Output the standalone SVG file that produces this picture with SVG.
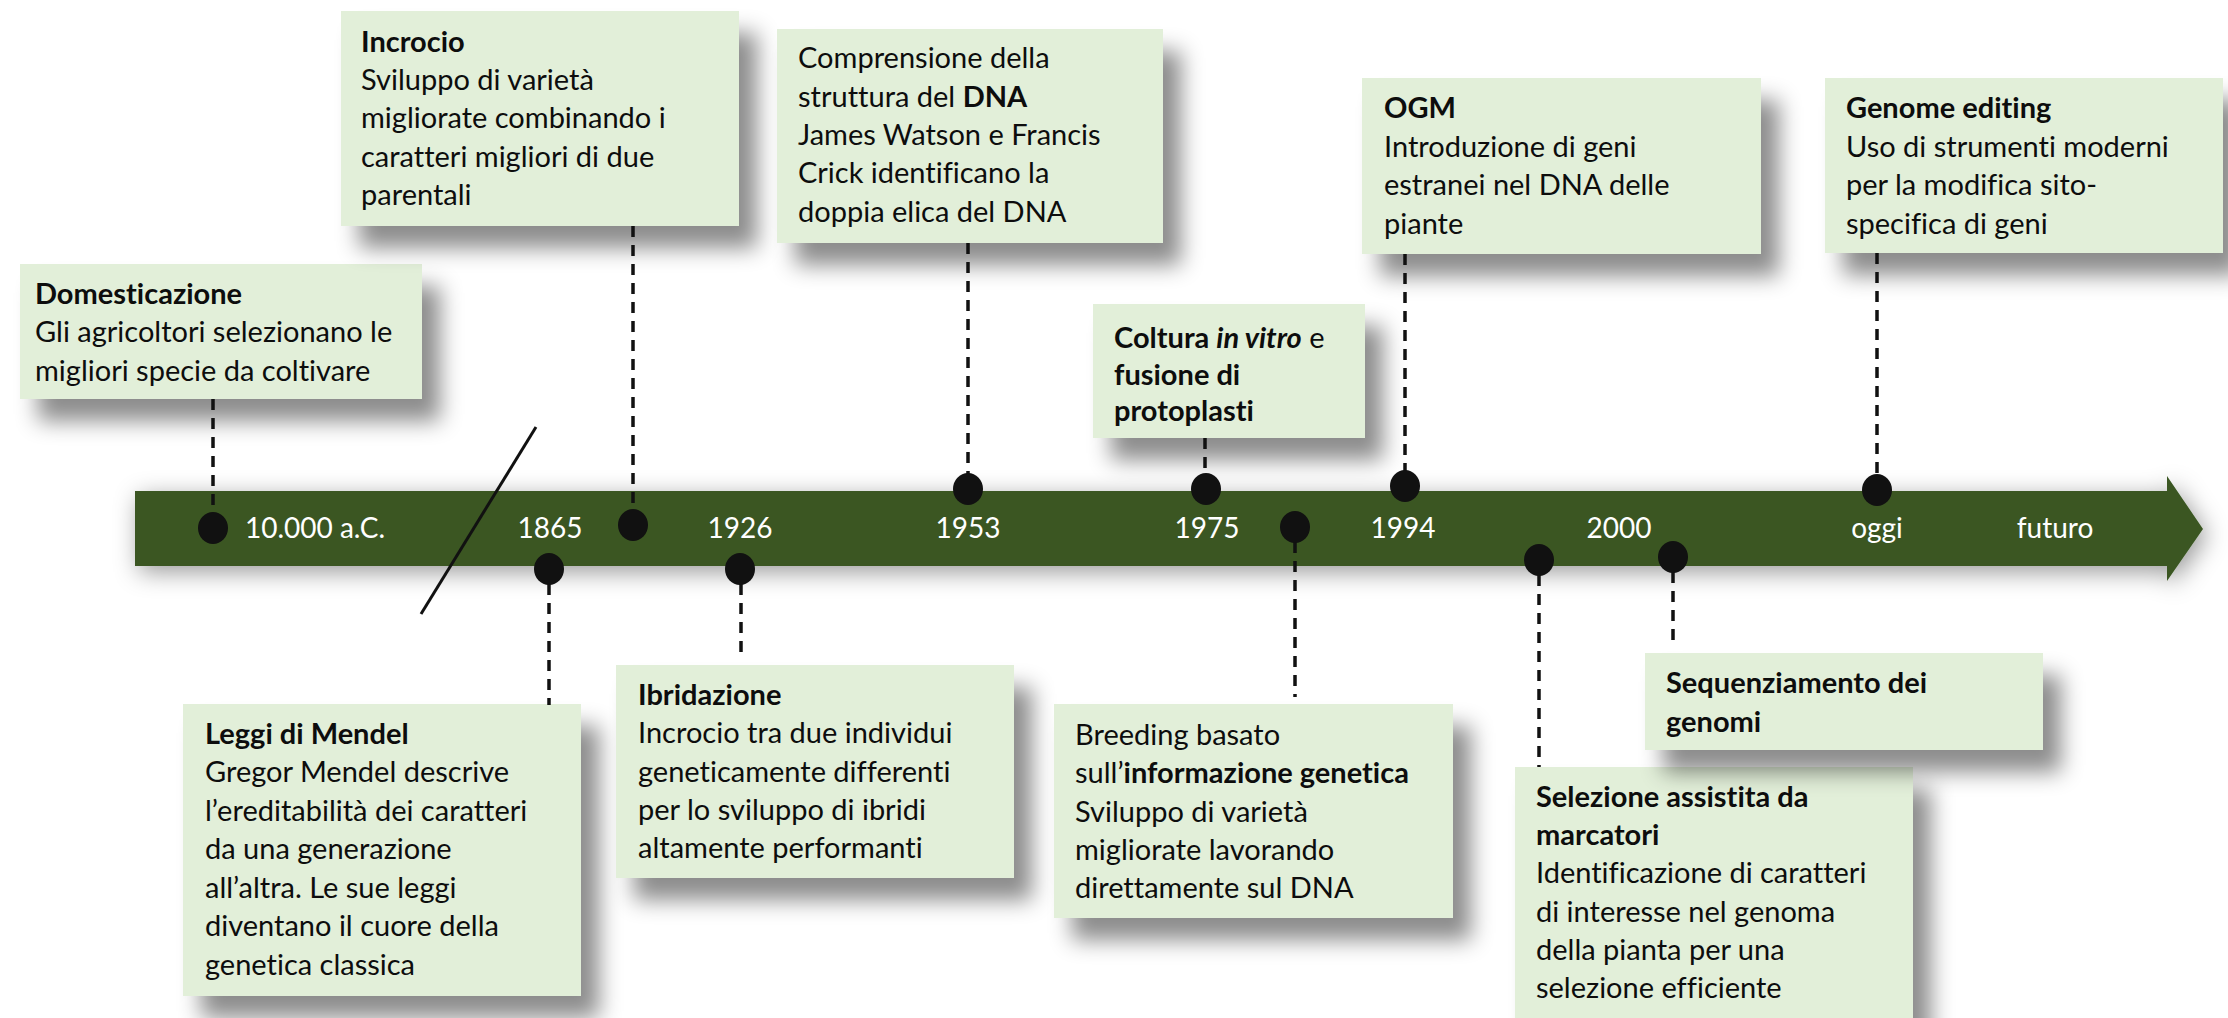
<svg xmlns="http://www.w3.org/2000/svg" width="2228" height="1018" viewBox="0 0 2228 1018">
<defs>
<filter id="boxsh" x="-20%" y="-20%" width="150%" height="170%">
<feDropShadow dx="18" dy="22" stdDeviation="11" flood-color="#000" flood-opacity="0.45"/>
</filter>
<filter id="barsh" x="-5%" y="-60%" width="110%" height="220%">
<feDropShadow dx="4" dy="6" stdDeviation="12" flood-color="#000" flood-opacity="0.4"/>
</filter>
<style>
.box{fill:#E2EFD9;filter:url(#boxsh);}
.t{font-family:Lato,"Liberation Sans",sans-serif;font-size:29px;fill:#0d0d0d;font-variant-ligatures:none;}
.b{font-weight:bold;}
.yr{font-family:Lato,"Liberation Sans",sans-serif;font-size:28px;fill:#ffffff;text-anchor:middle;}
.dash{stroke:#111;stroke-width:3.5;stroke-dasharray:11 8;fill:none;}
.dot{fill:#111;}
</style>
</defs>
<rect width="2228" height="1018" fill="#fff"/>

<g id="timeline">
<path d="M135,491 H2167 V476 L2203,529 L2167,581 V566 H135 Z" fill="#3A5723" filter="url(#barsh)"/>
<line x1="536" y1="427" x2="421" y2="614" stroke="#111" stroke-width="3"/>
<text class="yr" x="315" y="538">10.000 a.C.</text>
<text class="yr" x="550" y="538">1865</text>
<text class="yr" x="740" y="538">1926</text>
<text class="yr" x="968" y="538">1953</text>
<text class="yr" x="1207" y="538">1975</text>
<text class="yr" x="1403" y="538">1994</text>
<text class="yr" x="1619" y="538">2000</text>
<text class="yr" x="1877" y="538">oggi</text>
<text class="yr" x="2055" y="538">futuro</text>
</g>

<g id="domesticazione">
<rect class="box" x="20" y="264" width="402" height="135"/>
<text class="t"><tspan class="b" x="35" y="304">Domesticazione</tspan><tspan x="35" y="342">Gli agricoltori selezionano le</tspan><tspan x="35" y="381">migliori specie da coltivare</tspan></text>
</g>

<g id="incrocio">
<rect class="box" x="341" y="11" width="398" height="215"/>
<text class="t"><tspan class="b" x="361" y="52">Incrocio</tspan><tspan x="361" y="90">Sviluppo di varietà</tspan><tspan x="361" y="128">migliorate combinando i</tspan><tspan x="361" y="167">caratteri migliori di due</tspan><tspan x="361" y="205">parentali</tspan></text>
</g>

<g id="dna">
<rect class="box" x="777" y="29" width="386" height="214"/>
<text class="t"><tspan x="798" y="68">Comprensione della</tspan><tspan x="798" y="107">struttura del <tspan class="b">DNA</tspan></tspan><tspan x="798" y="145">James Watson e Francis</tspan><tspan x="798" y="183">Crick identificano la</tspan><tspan x="798" y="222">doppia elica del DNA</tspan></text>
</g>

<g id="coltura">
<rect class="box" x="1093" y="304" width="272" height="134"/>
<text class="t"><tspan x="1114" y="348"><tspan class="b">Coltura </tspan><tspan class="b" font-style="italic">in vitro</tspan> e</tspan><tspan class="b" x="1114" y="385">fusione di</tspan><tspan class="b" x="1114" y="421">protoplasti</tspan></text>
</g>

<g id="ogm">
<rect class="box" x="1362" y="78" width="399" height="176"/>
<text class="t"><tspan class="b" x="1384" y="118">OGM</tspan><tspan x="1384" y="157">Introduzione di geni</tspan><tspan x="1384" y="195">estranei nel DNA delle</tspan><tspan x="1384" y="234">piante</tspan></text>
</g>

<g id="genome-editing">
<rect class="box" x="1825" y="78" width="398" height="175"/>
<text class="t"><tspan class="b" x="1846" y="118">Genome editing</tspan><tspan x="1846" y="157">Uso di strumenti moderni</tspan><tspan x="1846" y="195">per la modifica sito-</tspan><tspan x="1846" y="234">specifica di geni</tspan></text>
</g>

<g id="mendel">
<rect class="box" x="183" y="704" width="398" height="292"/>
<text class="t"><tspan class="b" x="205" y="744">Leggi di Mendel</tspan><tspan x="205" y="782">Gregor Mendel descrive</tspan><tspan x="205" y="821">l’ereditabilità dei caratteri</tspan><tspan x="205" y="859">da una generazione</tspan><tspan x="205" y="898">all’altra. Le sue leggi</tspan><tspan x="205" y="936">diventano il cuore della</tspan><tspan x="205" y="975">genetica classica</tspan></text>
</g>

<g id="ibridazione">
<rect class="box" x="616" y="665" width="398" height="213"/>
<text class="t"><tspan class="b" x="638" y="705">Ibridazione</tspan><tspan x="638" y="743">Incrocio tra due individui</tspan><tspan x="638" y="782">geneticamente differenti</tspan><tspan x="638" y="820">per lo sviluppo di ibridi</tspan><tspan x="638" y="858">altamente performanti</tspan></text>
</g>

<g id="breeding">
<rect class="box" x="1054" y="704" width="399" height="214"/>
<text class="t"><tspan x="1075" y="745">Breeding basato</tspan><tspan x="1075" y="783">sull’<tspan class="b">informazione genetica</tspan></tspan><tspan x="1075" y="822">Sviluppo di varietà</tspan><tspan x="1075" y="860">migliorate lavorando</tspan><tspan x="1075" y="898">direttamente sul DNA</tspan></text>
</g>

<g id="mas">
<rect class="box" x="1515" y="767" width="398" height="265"/>
<text class="t"><tspan class="b" x="1536" y="807">Selezione assistita da</tspan><tspan class="b" x="1536" y="845">marcatori</tspan><tspan x="1536" y="883">Identificazione di caratteri</tspan><tspan x="1536" y="922">di interesse nel genoma</tspan><tspan x="1536" y="960">della pianta per una</tspan><tspan x="1536" y="998">selezione efficiente</tspan></text>
</g>

<g id="sequenziamento">
<rect class="box" x="1645" y="653" width="398" height="97"/>
<text class="t"><tspan class="b" x="1666" y="693">Sequenziamento dei</tspan><tspan class="b" x="1666" y="732">genomi</tspan></text>
</g>

<g id="connectors">
<line class="dash" x1="213" y1="399" x2="213" y2="514"/>
<line class="dash" x1="633" y1="226" x2="633" y2="511"/>
<line class="dash" x1="968" y1="243" x2="968" y2="475"/>
<line class="dash" x1="1205" y1="438" x2="1205" y2="475"/>
<line class="dash" x1="1405" y1="254" x2="1405" y2="472"/>
<line class="dash" x1="1877" y1="253" x2="1877" y2="476"/>
<line class="dash" x1="549" y1="584" x2="549" y2="705"/>
<line class="dash" x1="741" y1="584" x2="741" y2="654"/>
<line class="dash" x1="1295" y1="542" x2="1295" y2="697"/>
<line class="dash" x1="1539" y1="575" x2="1539" y2="767"/>
<line class="dash" x1="1673" y1="572" x2="1673" y2="648"/>
<ellipse class="dot" cx="213" cy="528" rx="15" ry="16"/>
<ellipse class="dot" cx="633" cy="525" rx="15" ry="16"/>
<ellipse class="dot" cx="968" cy="489" rx="15" ry="16"/>
<ellipse class="dot" cx="1206" cy="489" rx="15" ry="16"/>
<ellipse class="dot" cx="1405" cy="486" rx="15" ry="16"/>
<ellipse class="dot" cx="1877" cy="490" rx="15" ry="16"/>
<ellipse class="dot" cx="549" cy="569" rx="15" ry="16"/>
<ellipse class="dot" cx="740" cy="569" rx="15" ry="16"/>
<ellipse class="dot" cx="1295" cy="527" rx="15" ry="16"/>
<ellipse class="dot" cx="1539" cy="560" rx="15" ry="16"/>
<ellipse class="dot" cx="1673" cy="557" rx="15" ry="16"/>
</g>
</svg>
